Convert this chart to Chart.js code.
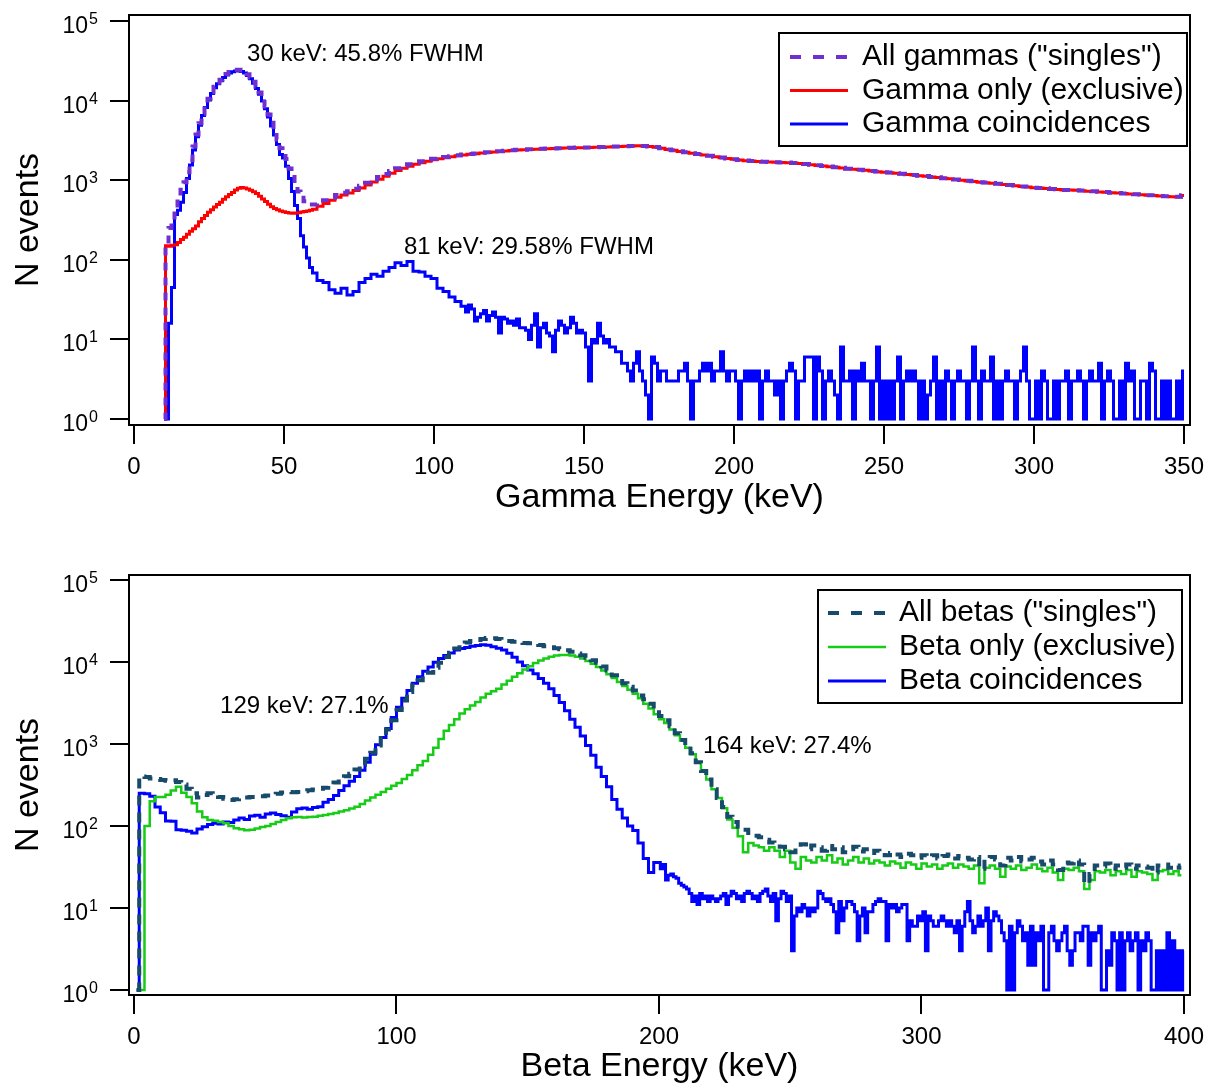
<!DOCTYPE html>
<html>
<head>
<meta charset="utf-8">
<title>Gamma and beta energy spectra</title>
<script src="https://cdn.jsdelivr.net/npm/chart.js@4.4.1/dist/chart.umd.min.js"></script>
<style>
  html, body { margin: 0; padding: 0; background: #fff; overflow: hidden; }
  #gammaChart { position: absolute; left: 0; top: 0; }
  #betaChart { position: absolute; left: 0; top: 540px; }
</style>
</head>
<body>
<canvas id="gammaChart" width="1210" height="540"></canvas>
<canvas id="betaChart" width="1210" height="550"></canvas>
<script>
// ---- axis ticks ----
const yTickValues = [1, 10, 100, 1000, 10000, 100000];
const yTickPowers = ['0', '1', '2', '3', '4', '5'];
const gammaTicks = [0, 50, 100, 150, 200, 250, 300, 350];
const betaTicks = [0, 100, 200, 300, 400];

// ---- gamma spectra ----
// peak region: 1 keV bins centred on 10..59 keV
const gammaAllPeak = [
  1, 160, 250, 340, 480, 580, 760, 940, 1260, 1780,
  2640, 3740, 5180, 6820, 8550, 10580, 12720, 14960, 16750, 18300,
  20050, 21600, 22850, 23700, 24350, 24450, 23950, 22950, 21450, 19550,
  17200, 14900, 12650, 10500, 8450, 6700, 5250, 4150, 3250, 2520,
  2300, 1850, 1400, 1100, 870, 720, 600, 545, 510, 495
];
const gammaOnlyPeak = [
  1, 150, 148, 152, 155, 165, 180, 192, 210, 228,
  245, 265, 300, 330, 360, 395, 425, 460, 495, 530,
  575, 620, 660, 700, 750, 790, 810, 800, 775, 745,
  715, 680, 630, 580, 540, 500, 465, 440, 425, 410,
  400, 392, 387, 384, 386, 390, 397, 403, 410, 420
];
const gammaCoincPeak = [
  1, 1, 16, 45, 370, 420, 530, 700, 1050, 1550,
  2400, 3500, 4900, 6500, 8200, 10200, 12300, 14500, 16300, 17800,
  19500, 21000, 22200, 23000, 23600, 23700, 23200, 22200, 20700, 18800,
  16500, 14200, 12000, 9900, 7900, 6200, 4800, 3700, 2800, 2100,
  1900, 1500, 1050, 720, 480, 330, 200, 145, 105, 80
];

// continuum: 2 keV bins centred on 60..350 keV
const gammaAll = [
  495, 520, 560, 600, 650,                                          // 60-68
  695, 725, 780, 850, 930, 1015, 1100, 1195, 1300, 1410,            // 70-88
  1500, 1590, 1660, 1730, 1790, 1860, 1900, 1960, 2000, 2050,       // 90-108
  2095, 2135, 2170, 2210, 2250, 2280, 2310, 2350, 2375, 2405,       // 110-128
  2420, 2440, 2470, 2480, 2495, 2505, 2525, 2545, 2560, 2565,       // 130-148
  2570, 2575, 2600, 2615, 2620, 2640, 2655, 2675, 2695, 2705,       // 150-168
  2695, 2650, 2605, 2525, 2435, 2375, 2305, 2245, 2180, 2125,       // 170-188
  2075, 2025, 1975, 1925, 1875, 1835, 1790, 1765, 1745, 1720,       // 190-208
  1705, 1695, 1685, 1670, 1665, 1645, 1620, 1595, 1565, 1535,       // 210-228
  1510, 1485, 1455, 1430, 1395, 1370, 1355, 1335, 1300, 1290,       // 230-248
  1260, 1245, 1220, 1205, 1185, 1165, 1140, 1125, 1100, 1085,       // 250-268
  1060, 1045, 1020, 1005, 985, 970, 945, 935, 920, 900,             // 270-288
  885, 870, 855, 835, 830, 805, 800, 790, 775, 770,                 // 290-308
  755, 755, 745, 740, 728, 725, 715, 710, 695, 692,                 // 310-328
  680, 678, 665, 660, 645, 645, 632, 630, 620, 618,                 // 330-348
  645                                                               // 350
];
const gammaOnly = [
  430, 470, 510, 560, 610,
  650, 690, 740, 800, 870, 950, 1030, 1120, 1220, 1320,
  1410, 1500, 1590, 1660, 1730, 1800, 1860, 1920, 1970, 2020,
  2070, 2110, 2150, 2190, 2230, 2260, 2300, 2330, 2360, 2390,
  2410, 2430, 2450, 2470, 2480, 2500, 2510, 2530, 2540, 2550,
  2560, 2570, 2590, 2600, 2610, 2630, 2650, 2670, 2690, 2700,
  2690, 2650, 2600, 2520, 2430, 2370, 2300, 2240, 2180, 2120,
  2070, 2020, 1970, 1920, 1870, 1830, 1790, 1760, 1740, 1720,
  1700, 1690, 1680, 1670, 1660, 1640, 1620, 1590, 1560, 1530,
  1510, 1480, 1450, 1420, 1390, 1370, 1350, 1330, 1300, 1280,
  1260, 1240, 1220, 1200, 1180, 1160, 1140, 1120, 1100, 1080,
  1060, 1040, 1020, 1000, 980, 960, 945, 930, 915, 900,
  880, 865, 850, 835, 820, 805, 795, 785, 775, 765,
  755, 750, 745, 735, 728, 720, 712, 705, 695, 688,
  680, 672, 665, 655, 645, 640, 632, 625, 620, 615,
  640
];
// coincidence bump: 2 keV bins centred on 60..108 keV
const gammaCoincBump = [
  68, 55, 52, 42, 38,
  44, 36, 40, 52, 58, 66, 62, 72, 80, 92,
  85, 95, 72, 70, 62, 58, 44, 40, 34, 30
];
// coincidence tail: 1 keV bins centred on 110..350 keV
const gammaCoincTail = [
  26, 22, 27, 24, 17, 19, 21, 23, 17, 20,   // 110-119
  22, 19, 12, 19, 18, 16, 17, 15, 18, 14,   // 120-129
  14, 13, 10, 15, 21, 8, 14, 16, 12, 11,    // 130-139
  7, 13, 17, 15, 12, 14, 19, 16, 12, 13,    // 140-149
  12, 8, 3, 10, 9, 16, 11, 9, 10, 8,        // 150-159
  8, 7, 7, 5, 5, 4, 3, 5, 7, 4,             // 160-169
  3, 2, 1, 6, 5, 3, 4, 4, 3, 3,             // 170-179
  3, 3, 4, 4, 5, 3, 1, 3, 3, 4,             // 180-189
  5, 4, 5, 3, 4, 4, 7, 4, 3, 4,             // 190-199
  4, 3, 1, 3, 4, 3, 4, 3, 4, 1,             // 200-209
  3, 4, 3, 3, 2, 3, 1, 3, 4, 5,             // 210-219
  4, 1, 3, 3, 6, 6, 6, 1, 6, 4,             // 220-229
  1, 3, 4, 3, 2, 1, 8, 3, 3, 4,             // 230-239
  1, 4, 3, 5, 3, 3, 1, 3, 8, 1,             // 240-249
  3, 1, 3, 1, 3, 6, 1, 3, 4, 3,             // 250-259
  4, 3, 1, 3, 1, 2, 3, 6, 1, 3,             // 260-269
  1, 4, 3, 1, 3, 4, 3, 3, 1, 3,             // 270-279
  8, 3, 1, 4, 3, 3, 6, 1, 3, 1,             // 280-289
  3, 4, 3, 3, 1, 3, 4, 8, 3, 1,             // 290-299
  1, 3, 1, 4, 3, 1, 1, 3, 1, 3,             // 300-309
  3, 4, 1, 3, 3, 4, 3, 1, 3, 4,             // 310-319
  3, 3, 5, 1, 3, 4, 3, 1, 1, 3,             // 320-329
  1, 5, 3, 4, 1, 1, 3, 3, 1, 5,             // 330-339
  4, 1, 1, 3, 1, 3, 1, 1, 3, 1,             // 340-349
  4                                         // 350
];

// ---- beta spectra: 2 keV bins centred on 1..399 keV ----
const betaAll = [
  1, 400, 395, 380, 375, 365, 355, 360, 345, 320,                   // 1-19
  285, 250, 222, 238, 250, 240, 226, 215, 208, 212,                 // 21-39
  220, 222, 225, 227, 230, 235, 240, 248, 256, 259,                 // 41-59
  258, 260, 265, 272, 278, 285, 292, 310, 340, 375,                 // 61-79
  405, 435, 490, 560, 660, 780, 960, 1180, 1500, 1950,              // 81-99
  2600, 3400, 4300, 5200, 6000, 6700, 7400, 8500, 9800, 11500,      // 101-119
  13000, 14600, 16500, 17300, 18000, 18500, 19100, 19600, 19500, 19000, // 121-139
  18500, 18000, 17600, 17200, 17000, 16900, 16600, 16100, 15600, 15100, // 141-159
  14700, 14300, 13900, 13300, 12700, 12100, 11300, 10500, 9800, 8800,   // 161-179
  7900, 6900, 6200, 5500, 5000, 4500, 3900, 3500, 3100, 2600,       // 181-199
  2200, 1950, 1650, 1350, 1120, 930, 770, 600, 470, 370,            // 201-219
  280, 220, 170, 130, 112, 98, 90, 82, 76, 73,                      // 221-239
  68, 63, 60, 56, 52, 48, 54, 60, 52, 58,                           // 241-259
  55, 50, 57, 52, 55, 48, 52, 56, 49, 52,                           // 261-279
  47, 50, 48, 44, 47, 45, 42, 46, 44, 41,                           // 281-299
  44, 42, 44, 40, 43, 45, 40, 43, 41, 39,                           // 301-319
  42, 30, 40, 42, 39, 33, 41, 38, 42, 37,                           // 321-339
  39, 41, 37, 34, 38, 34, 29, 36, 35, 38,                           // 341-359
  34, 20, 26, 33, 32, 35, 30, 33, 31, 34,                           // 361-379
  30, 33, 32, 31, 27, 33, 34, 31, 33, 31                            // 381-399
];

const betaOnly = [
  1, 1, 100, 200, 226, 226, 240, 270, 300, 255,
  225, 190, 150, 128, 118, 116, 112, 108, 100, 94,
  91, 89, 90, 93, 97, 100, 106, 112, 118, 124,
  128, 129, 127, 129, 130, 133, 136, 140, 144, 150,
  156, 163, 172, 185, 205, 222, 240, 259, 285, 310,
  335, 375, 420, 480, 550, 620, 740, 900, 1150, 1450,
  1700, 2000, 2350, 2650, 2950, 3250, 3700, 4100, 4400, 4700,
  5300, 5900, 6600, 7300, 8100, 8900, 9700, 10400, 11000, 11600,
  12000, 12200, 12200, 12000, 11600, 11000, 10300, 9500, 8700, 7900,
  7100, 6400, 5700, 5100, 4600, 4100, 3600, 3100, 2700, 2300,
  2000, 1800, 1500, 1280, 1100, 900, 750, 600, 470, 370,
  280, 220, 165, 120, 95, 75, 48, 62, 58, 55,
  50, 55, 50, 42, 50, 36, 30, 42, 38, 36,
  42, 38, 44, 36, 40, 34, 38, 42, 36, 40,
  35, 38, 36, 33, 37, 35, 31, 36, 34, 30,
  35, 32, 34, 30, 33, 35, 31, 34, 32, 30,
  33, 20, 31, 33, 30, 24, 32, 30, 33, 29,
  31, 34, 30, 28, 31, 27, 22, 30, 29, 31,
  28, 17, 22, 28, 27, 29, 25, 28, 26, 29,
  24, 28, 27, 26, 22, 28, 29, 26, 28, 25
];

// coincidences: 2 keV bins centred on 1..199 keV
const betaCoincMain = [
  1, 250, 248, 230, 170, 145, 115, 114, 90, 89,
  86, 82, 92, 98, 104, 108, 106, 112, 110, 118,
  125, 120, 132, 135, 128, 140, 144, 138, 133, 128,
  148, 162, 166, 160, 168, 172, 195, 210, 235, 270,
  310, 350, 400, 480, 600, 750, 980, 1200, 1550, 2100,
  2800, 3600, 4500, 5500, 6600, 7700, 8700, 9900, 11000, 12000,
  12900, 14000, 14600, 15000, 15500, 15900, 16200, 16000, 15300, 14700,
  14000, 12800, 11400, 10000, 9000, 8000, 7200, 6300, 5500, 4700,
  3900, 3200, 2550, 2000, 1600, 1250, 960, 730, 520, 400,
  300, 210, 160, 125, 100, 88, 62, 40, 27, 36
];
// coincidence tail: 1 keV bins centred on 200..400 keV
const betaCoincTail = [
  36, 30, 34, 22, 25, 26, 24, 23, 20, 19,   // 200-209
  18, 17, 15, 12, 14, 11, 15, 13, 14, 12,   // 210-219
  14, 13, 12, 13, 14, 15, 11, 14, 16, 15,   // 220-229
  13, 14, 12, 15, 16, 15, 13, 14, 12, 15,   // 230-239
  16, 17, 14, 12, 15, 7, 13, 16, 15, 12,    // 240-249
  14, 3, 8, 10, 9, 11, 10, 8, 10, 9,        // 250-259
  10, 16, 15, 13, 12, 13, 11, 9, 5, 12,     // 260-269
  7, 10, 12, 12, 11, 9, 4, 8, 10, 5,        // 270-279
  9, 9, 11, 12, 13, 12, 12, 4, 11, 10,      // 280-289
  11, 9, 10, 11, 11, 4, 7, 6, 6, 8,         // 290-299
  7, 9, 3, 8, 7, 6, 6, 7, 8, 7,             // 300-309
  6, 7, 6, 5, 7, 3, 6, 9, 12, 7,            // 310-319
  5, 6, 8, 6, 7, 10, 3, 7, 9, 8,            // 320-329
  7, 5, 4, 1, 6, 1, 5, 7, 6, 4,             // 330-339
  5, 2, 6, 2, 5, 4, 6, 1, 1, 5,             // 340-349
  6, 4, 3, 4, 5, 6, 3, 2, 3, 5,             // 350-359
  5, 4, 6, 6, 2, 5, 4, 5, 6, 1,             // 360-369
  1, 3, 2, 5, 4, 1, 5, 1, 4, 5,             // 370-379
  3, 4, 5, 1, 4, 3, 5, 4, 1, 1,             // 380-389
  3, 1, 3, 1, 5, 1, 4, 1, 3, 1,             // 390-399
  3                                         // 400
];

// ---- text placed on the plots (anchor in data units) ----
const gammaNotes = [
  { text: '30 keV: 45.8% FWHM', x: 37.7, y: 38500 },
  { text: '81 keV: 29.58% FWHM', x: 90, y: 145 }
];
const betaNotes = [
  { text: '129 keV: 27.1%', x: 32.8, y: 2900 },
  { text: '164 keV: 27.4%', x: 216.8, y: 946 }
];

const FONT = '"Liberation Sans", Arial, Helvetica, sans-serif';
Chart.defaults.font.family = FONT;
Chart.defaults.color = '#000';

// turn [{first, width, values}] bin runs into {x, y} points at bin centres
function histogram(runs) {
  const pts = [];
  runs.forEach(r => r.values.forEach((v, i) => pts.push({ x: r.first + i * r.width, y: v })));
  return pts;
}

// frame, 10^n labels, notes and boxed legend
const decorPlugin = {
  id: 'decor',
  afterDraw(chart, args, opts) {
    const ctx = chart.ctx;
    const area = chart.chartArea;
    const xs = chart.scales.x, ys = chart.scales.y;
    ctx.save();
    ctx.setLineDash([]);
    ctx.strokeStyle = '#000';
    ctx.lineWidth = 2;
    ctx.strokeRect(area.left, area.top, area.right - area.left, area.bottom - area.top);

    ctx.fillStyle = '#000';
    ctx.textBaseline = 'alphabetic';
    yTickValues.forEach((v, i) => {
      const py = ys.getPixelForValue(v);
      ctx.font = '23px ' + FONT;
      ctx.textAlign = 'right';
      ctx.fillText('10', area.left - 41, py + 12);
      ctx.font = '16px ' + FONT;
      ctx.textAlign = 'left';
      ctx.fillText(yTickPowers[i], area.left - 40, py + 3);
    });

    ctx.font = '24px ' + FONT;
    ctx.textAlign = 'left';
    ctx.textBaseline = 'middle';
    opts.notes.forEach(n => {
      ctx.fillText(n.text, xs.getPixelForValue(n.x), ys.getPixelForValue(n.y));
    });

    const lg = opts.legend;
    const bx = area.right - lg.rightInset - lg.width;
    const by = area.top + lg.topInset;
    ctx.fillStyle = '#fff';
    ctx.fillRect(bx, by, lg.width, lg.height);
    ctx.strokeStyle = '#000';
    ctx.lineWidth = 2;
    ctx.strokeRect(bx, by, lg.width, lg.height);
    chart.data.datasets.forEach((ds, i) => {
      const ry = by + lg.firstRow + i * lg.rowStep;
      ctx.beginPath();
      ctx.strokeStyle = ds.borderColor;
      ctx.lineWidth = ds.borderWidth;
      ctx.setLineDash(ds.legendDash);
      ctx.moveTo(bx + lg.sampleX, ry);
      ctx.lineTo(bx + lg.sampleX + lg.sampleLen, ry);
      ctx.stroke();
      ctx.setLineDash([]);
      ctx.fillStyle = '#000';
      ctx.font = lg.fontSize + 'px ' + FONT;
      ctx.textAlign = 'left';
      ctx.textBaseline = 'middle';
      ctx.fillText(ds.label, bx + lg.textX, ry);
    });
    ctx.restore();
  }
};

function axisLines() {
  return {
    grid: { display: true, drawOnChartArea: false, drawTicks: true, tickLength: 19, color: '#000', lineWidth: 2 },
    border: { display: true, color: '#000', width: 2 }
  };
}

function buildSpectrum(id, cfg) {
  return new Chart(document.getElementById(id), {
    type: 'line',
    data: {
      datasets: cfg.series.map(s => ({
        label: s.label,
        data: histogram(s.runs),
        borderColor: s.color,
        borderWidth: s.width,
        borderDash: s.dash,
        legendDash: s.legendDash,
        stepped: 'middle',
        pointRadius: 0,
        fill: false
      }))
    },
    options: {
      responsive: false,
      animation: false,
      events: [],
      layout: { padding: cfg.padding },
      plugins: {
        legend: { display: false },
        tooltip: { enabled: false },
        decor: { notes: cfg.notes, legend: cfg.legend }
      },
      scales: {
        x: Object.assign({
          type: 'linear',
          min: cfg.xMin,
          max: cfg.xMax,
          afterBuildTicks: s => { s.ticks = cfg.xTicks.map(v => ({ value: v })); },
          afterFit: s => { s.height = cfg.xAxisHeight; s.paddingLeft = 0; s.paddingRight = 0; },
          ticks: { color: '#000', font: { size: 24 }, padding: 9, maxRotation: 0, autoSkip: false },
          title: { display: true, text: cfg.xTitle, color: '#000', font: { size: 34 }, padding: 0 }
        }, axisLines()),
        y: Object.assign({
          type: 'logarithmic',
          min: cfg.yMin,
          max: cfg.yMax,
          afterBuildTicks: s => { s.ticks = yTickValues.map(v => ({ value: v })); },
          afterFit: s => { s.width = 129; s.paddingTop = 0; s.paddingBottom = 0; },
          ticks: { display: false },
          title: { display: true, text: 'N events', color: '#000', font: { size: 34 }, padding: { top: 8, bottom: 0 } }
        }, axisLines())
      }
    },
    plugins: [decorPlugin]
  });
}

buildSpectrum('gammaChart', {
  xMin: -1.67, xMax: 352,
  yMin: 0.84, yMax: 118900,
  xTicks: gammaTicks,
  xTitle: 'Gamma Energy (keV)',
  xAxisHeight: 93,
  padding: { top: 15, right: 20, bottom: 22, left: 0 },
  notes: gammaNotes,
  legend: { rightInset: 3, topInset: 18, width: 408, height: 113, firstRow: 24, rowStep: 33.5, sampleX: 11, sampleLen: 58, textX: 83, fontSize: 30 },
  series: [
    { label: 'All gammas ("singles")', color: '#7030d0', width: 4, dash: [8, 7], legendDash: [11, 12],
      runs: [{ first: 10, width: 1, values: gammaAllPeak }, { first: 60, width: 2, values: gammaAll }] },
    { label: 'Gamma only (exclusive)', color: '#ff0000', width: 3, dash: [], legendDash: [],
      runs: [{ first: 10, width: 1, values: gammaOnlyPeak }, { first: 60, width: 2, values: gammaOnly }] },
    { label: 'Gamma coincidences', color: '#0000ff', width: 3, dash: [], legendDash: [],
      runs: [{ first: 10, width: 1, values: gammaCoincPeak }, { first: 60, width: 2, values: gammaCoincBump },
             { first: 110, width: 1, values: gammaCoincTail }] }
  ]
});

buildSpectrum('betaChart', {
  xMin: -1.9, xMax: 402.3,
  yMin: 0.869, yMax: 115000,
  xTicks: betaTicks,
  xTitle: 'Beta Energy (keV)',
  xAxisHeight: 92,
  padding: { top: 35, right: 20, bottom: 3, left: 0 },
  notes: betaNotes,
  legend: { rightInset: 8, topInset: 15, width: 364, height: 113, firstRow: 23, rowStep: 34, sampleX: 10, sampleLen: 58, textX: 81, fontSize: 30 },
  series: [
    { label: 'All betas ("singles")', color: '#174a6b', width: 4, dash: [10, 7], legendDash: [11, 12],
      runs: [{ first: 1, width: 2, values: betaAll }] },
    { label: 'Beta only (exclusive)', color: '#16cc16', width: 2.5, dash: [], legendDash: [],
      runs: [{ first: 1, width: 2, values: betaOnly }] },
    { label: 'Beta coincidences', color: '#0000ff', width: 3, dash: [], legendDash: [],
      runs: [{ first: 1, width: 2, values: betaCoincMain }, { first: 200, width: 1, values: betaCoincTail }] }
  ]
});
</script>
</body>
</html>
